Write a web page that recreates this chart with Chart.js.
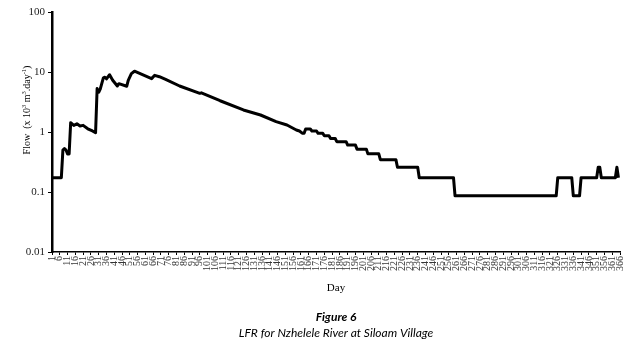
<!DOCTYPE html>
<html>
<head>
<meta charset="utf-8">
<script src="https://cdn.jsdelivr.net/npm/chart.js@4.4.1/dist/chart.umd.min.js"></script>
<style>
html,body{margin:0;padding:0;background:#fff;}
#wrap{position:relative;width:636px;height:345px;}
canvas{display:block;}
</style>
</head>
<body>
<div id="wrap"><canvas id="c" width="636" height="345"></canvas></div>
<script>
const days = [1,7,8,9,10,11,12,13,15,17,19,21,24,27,29,30,31,32,34,35,36,38,40,43,44,49,50,52,54,65,67,70,74,83,96,97,109,124,135,145,152,158,160,162,163,164,167,168,171,172,175,176,179,180,183,184,190,191,196,197,203,204,211,212,222,223,236,237,259,260,325,326,335,336,340,341,351,352,353,354,363,364,365];
const flow = [0.173,0.173,0.50,0.53,0.50,0.43,0.43,1.43,1.29,1.37,1.26,1.29,1.13,1.04,0.97,5.3,4.6,5.2,8.0,8.2,7.7,9.0,7.3,5.84,6.39,5.78,7.27,9.37,10.3,7.75,8.8,8.35,7.55,5.84,4.41,4.5,3.32,2.33,1.92,1.49,1.31,1.08,1.04,0.95,0.95,1.12,1.12,1.04,1.04,0.95,0.95,0.864,0.864,0.778,0.778,0.691,0.691,0.605,0.605,0.518,0.518,0.432,0.432,0.346,0.346,0.259,0.259,0.173,0.173,0.0864,0.0864,0.173,0.173,0.0864,0.0864,0.173,0.173,0.259,0.259,0.173,0.173,0.259,0.173];
const xTickLabels = ["1","6","11","16","21","26","31","36","41","46","51","56","61","66","71","76","81","86","91","96","101","106","111","116","121","126","131","136","141","146","151","156","161","166","171","176","181","186","191","196","201","206","211","216","221","226","231","236","241","246","251","256","261","266","271","276","281","286","291","296","301","306","311","316","321","326","331","336","341","346","351","356","361","366"];
const yTickValues = [0.01,0.1,1,10,100];
const yTickLabels = ["0.01","0.1","1","10","100"];
const xTitle = "Day";
const yTitleParts = [["Flow  (x 10",false],["3",true],[" m",false],["3",true],[".day",false],["-1",true],[")",false]];
const figureLabel = "Figure 6";
const figureCaption = "LFR for Nzhelele River at Siloam Village";

const yTitlePlugin = {
  id: 'yTitle',
  afterDraw(chart) {
    const ctx = chart.ctx;
    const normal = "10px 'Liberation Serif'";
    const sup = "6.5px 'Liberation Serif'";
    ctx.save();
    let total = 0;
    for (const [t, s] of yTitleParts) { ctx.font = s ? sup : normal; total += ctx.measureText(t).width; }
    ctx.translate(27, 110);
    ctx.rotate(-Math.PI / 2);
    ctx.fillStyle = '#000';
    ctx.textBaseline = 'middle';
    ctx.textAlign = 'left';
    let x = -total / 2;
    for (const [t, s] of yTitleParts) {
      ctx.font = s ? sup : normal;
      ctx.fillText(t, x, s ? -3 : 0);
      x += ctx.measureText(t).width;
    }
    ctx.restore();
  }
};

new Chart(document.getElementById('c'), {
  type: 'line',
  data: {
    datasets: [{
      data: days.map((d, i) => ({x: d, y: flow[i]})),
      borderColor: '#000',
      borderWidth: 3,
      pointRadius: 0,
      tension: 0,
      fill: false,
      borderJoinStyle: 'round'
    }]
  },
  options: {
    responsive: false,
    animation: false,
    devicePixelRatio: 1,
    layout: {padding: {left: 0, right: 16, top: 12, bottom: 0}},
    plugins: {
      legend: {display: false},
      tooltip: {enabled: false},
      title: {display: true, text: figureCaption, position: 'bottom', fullSize: false, color: '#000',
        font: {family: 'Lato', size: 12, style: 'italic', weight: 'normal'}, padding: {top: 0, bottom: 5}},
      subtitle: {display: true, text: figureLabel, position: 'bottom', fullSize: false, color: '#000',
        font: {family: 'Lato', size: 12, style: 'italic', weight: 'bold'}, padding: {top: 0, bottom: 1.5}}
    },
    scales: {
      x: {
        type: 'linear', min: 1, max: 366,
        afterBuildTicks: s => { s.ticks = xTickLabels.map(l => ({value: Number(l)})); },
        afterFit: s => { s.height = 57.7; },
        ticks: {autoSkip: false, maxRotation: 90, minRotation: 90, padding: 1, color: '#333',
          font: {family: 'Liberation Serif', size: 10},
          callback: (v, i) => xTickLabels[i]},
        grid: {drawOnChartArea: false, drawTicks: true, tickLength: 3, color: '#000', lineWidth: 1},
        border: {display: true, color: '#000', width: 1.5},
        title: {display: true, text: xTitle, color: '#000', font: {family: 'Liberation Serif', size: 11}, padding: {top: 0, bottom: 15}}
      },
      y: {
        type: 'logarithmic', min: 0.01, max: 100,
        afterBuildTicks: s => { s.ticks = yTickValues.map(v => ({value: v})); },
        afterFit: s => { s.width = 52; },
        ticks: {padding: 3, color: '#222', font: {family: 'Liberation Serif', size: 11},
          callback: (v, i) => yTickLabels[i]},
        grid: {drawOnChartArea: false, drawTicks: true, tickLength: 4, color: '#000', lineWidth: 1},
        border: {display: true, color: '#000', width: 2.5}
      }
    }
  },
  plugins: [yTitlePlugin]
});
</script>
</body>
</html>
